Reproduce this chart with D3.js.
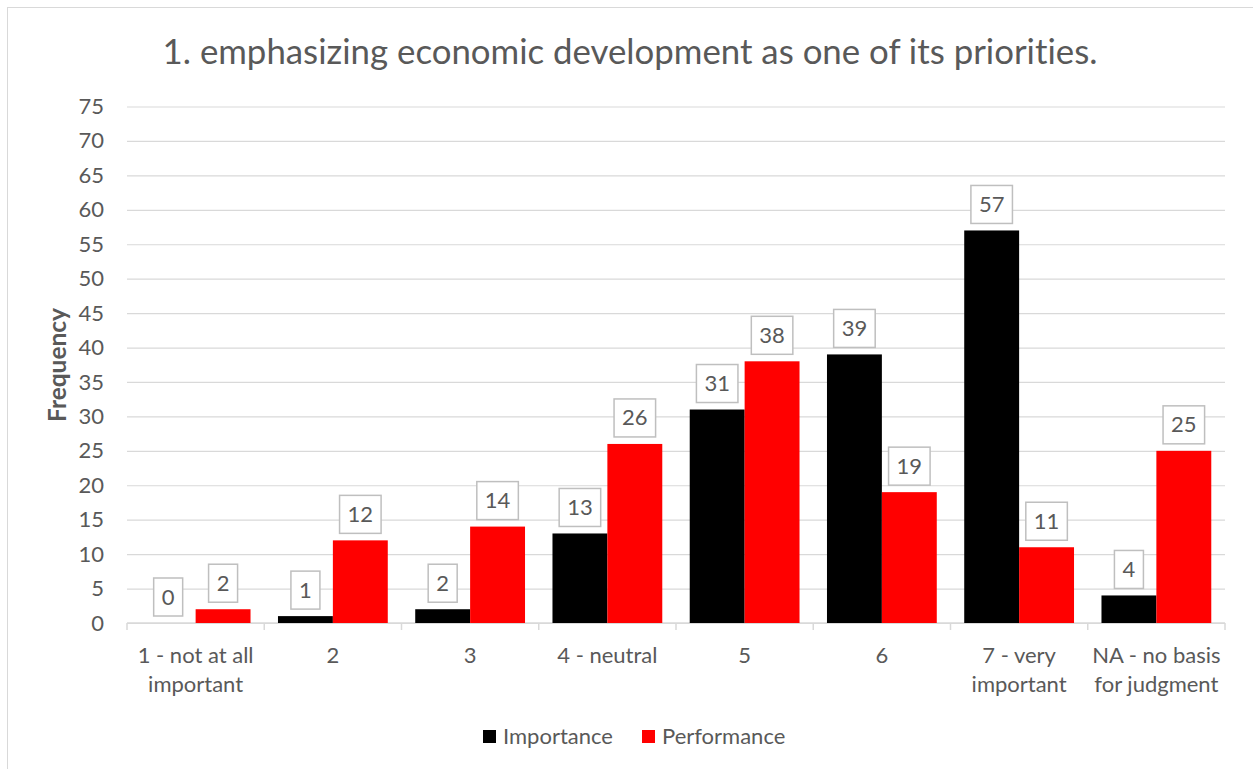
<!DOCTYPE html>
<html>
<head>
<meta charset="utf-8">
<script src="https://cdn.jsdelivr.net/npm/d3@7"></script>
<style>
  html, body { margin: 0; padding: 0; background: #fff; }
  svg { display: block; }
  text { font-family: Lato, "Open Sans", sans-serif; font-variant-ligatures: none; }
</style>
</head>
<body>
<script>
const title = "1. emphasizing economic development as one of its priorities.";
const categories = [
  ["1 - not at all", "important"],
  ["2"],
  ["3"],
  ["4 - neutral"],
  ["5"],
  ["6"],
  ["7 - very", "important"],
  ["NA - no basis", "for judgment"]
];
const seriesNames = ["Importance", "Performance"];
const seriesColors = ["#000000", "#ff0000"];
const importance = [0, 1, 2, 13, 31, 39, 57, 4];
const performance = [2, 12, 14, 26, 38, 19, 11, 25];
const yTicks = [0, 5, 10, 15, 20, 25, 30, 35, 40, 45, 50, 55, 60, 65, 70, 75];
const yLabel = "Frequency";

const W = 1253, H = 769;
const plotL = 127, plotR = 1225, plotT = 106.5, plotB = 623;
const textColor = "#595959";
const gridColor = "#d9d9d9";

const svg = d3.select("body").append("svg").attr("width", W).attr("height", H);

svg.append("rect").attr("x", 7.5).attr("y", 7.5).attr("width", W).attr("height", H)
  .attr("fill", "#fff").attr("stroke", gridColor).attr("stroke-width", 1);

// measure a font scale so body text widths match the reference
const probe = svg.append("text").style("font-size", "20px").text("Importance");
const fs = 20 * 110 / probe.node().getComputedTextLength();
probe.remove();
const fsPx = fs.toFixed(2) + "px";

const catKeys = categories.map((d, i) => i);
const x0 = d3.scaleBand().domain(catKeys).range([plotL, plotR]).paddingInner(0).paddingOuter(0);
const x1 = d3.scaleBand().domain(seriesNames).range([0, x0.bandwidth()]).paddingInner(0).paddingOuter(0.25);
const y = d3.scaleLinear().domain([0, 75]).range([plotB, plotT]);

const yAxis = d3.axisLeft(y).tickValues(yTicks).tickSize(-(plotR - plotL)).tickPadding(23);
const gy = svg.append("g").attr("transform", `translate(${plotL},0)`).call(yAxis);
gy.select(".domain").remove();
gy.selectAll(".tick line").attr("stroke", gridColor).attr("stroke-width", 1.2);
gy.selectAll(".tick text").attr("fill", textColor).style("font-size", fsPx)
  .style("font-family", "Lato, 'Open Sans', sans-serif");

const gx = svg.append("g");
gx.append("line").attr("x1", plotL).attr("x2", plotR).attr("y1", plotB).attr("y2", plotB)
  .attr("stroke", gridColor).attr("stroke-width", 1.5);
const boundaries = catKeys.map(k => x0(k)).concat([plotR]);
gx.selectAll("line.tk").data(boundaries).join("line").attr("class", "tk")
  .attr("x1", d => d).attr("x2", d => d).attr("y1", plotB).attr("y2", plotB + 7)
  .attr("stroke", gridColor).attr("stroke-width", 1.5);

categories.forEach((lines, i) => {
  const cx = x0(i) + x0.bandwidth() / 2;
  const t = svg.append("text").attr("text-anchor", "middle").attr("fill", textColor)
    .style("font-size", fsPx);
  lines.forEach((ln, j) => {
    t.append("tspan").attr("x", cx).attr("y", 663 + j * 29).text(ln);
  });
});

const data = categories.map((c, i) => ({ i, vals: [importance[i], performance[i]] }));
const groups = svg.selectAll("g.grp").data(data).join("g").attr("class", "grp")
  .attr("transform", d => `translate(${x0(d.i)},0)`);
groups.selectAll("rect").data(d => d.vals.map((v, s) => ({ v, s })))
  .join("rect")
  .attr("x", d => x1(seriesNames[d.s]))
  .attr("width", x1.bandwidth())
  .attr("y", d => y(d.v))
  .attr("height", d => y(0) - y(d.v))
  .attr("fill", d => seriesColors[d.s]);

groups.each(function(d) {
  const g = d3.select(this);
  d.vals.forEach((v, s) => {
    const cx = x1(seriesNames[s]) + x1.bandwidth() / 2;
    const bh = 38;
    const by = y(v) - 7 - bh;
    const lg = g.append("g");
    const rect = lg.append("rect").attr("fill", "#fff").attr("stroke", "#bfbfbf").attr("stroke-width", 1.5);
    const t = lg.append("text").attr("x", cx).attr("y", by + bh / 2 + 7.5)
      .attr("text-anchor", "middle").attr("fill", textColor).style("font-size", fsPx).text(v);
    const tw = t.node().getComputedTextLength();
    const bw = Math.max(tw + 16, 29);
    rect.attr("x", cx - bw / 2).attr("y", by).attr("width", bw).attr("height", bh);
  });
});

const tt = svg.append("text").attr("x", 630).attr("y", 64).attr("text-anchor", "middle")
  .attr("fill", textColor).style("font-size", "32px").text(title);
const targetW = 935;
const curW = tt.node().getComputedTextLength();
tt.style("font-size", (32 * targetW / curW).toFixed(2) + "px");

const yl = svg.append("text").attr("transform", "translate(66,365) rotate(-90)")
  .attr("text-anchor", "middle").attr("fill", "#595959").style("font-size", "22px")
  .style("font-weight", "bold").text(yLabel);
const ylw = yl.node().getComputedTextLength();
yl.style("font-size", (22 * 114 / ylw).toFixed(2) + "px");

const legendItems = [
  { name: seriesNames[0], color: seriesColors[0], sx: 483, tx: 503 },
  { name: seriesNames[1], color: seriesColors[1], sx: 642, tx: 662 }
];
legendItems.forEach(it => {
  svg.append("rect").attr("x", it.sx).attr("y", 730).attr("width", 13).attr("height", 13).attr("fill", it.color);
  svg.append("text").attr("x", it.tx).attr("y", 744).attr("fill", textColor)
    .style("font-size", fsPx).text(it.name);
});
</script>
</body>
</html>
